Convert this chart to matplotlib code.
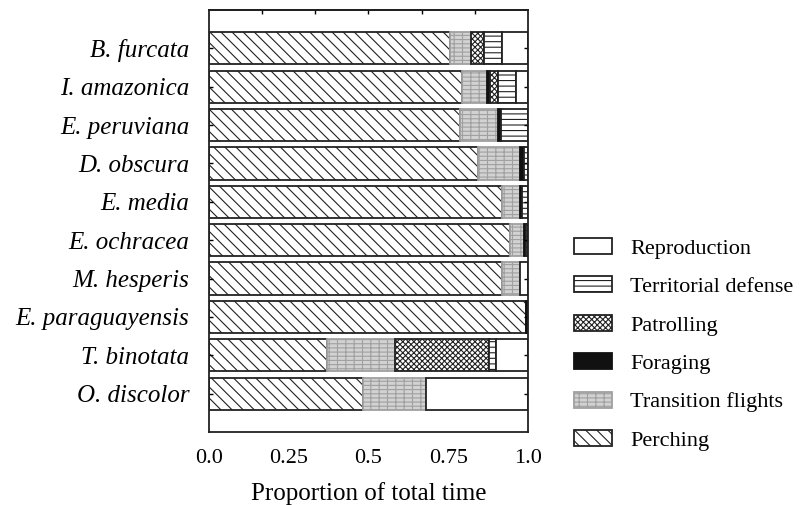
import matplotlib
matplotlib.use("Agg")
import matplotlib.pyplot as plt
import numpy as np
from matplotlib.patches import Patch

plt.rcParams['font.family'] = ['Liberation Serif', 'DejaVu Serif']
plt.rcParams['hatch.linewidth'] = 0.8

species = ["B. furcata", "I. amazonica", "E. peruviana", "D. obscura", "E. media",
           "E. ochracea", "M. hesperis", "E. paraguayensis", "T. binotata", "O. discolor"]

perching    = [0.756, 0.792, 0.787, 0.844, 0.917, 0.943, 0.917, 0.995, 0.370, 0.482]
transition  = [0.065, 0.079, 0.118, 0.132, 0.059, 0.045, 0.059, 0.000, 0.213, 0.197]
foraging    = [0.000, 0.010, 0.010, 0.012, 0.006, 0.006, 0.000, 0.005, 0.000, 0.000]
patrolling  = [0.042, 0.024, 0.000, 0.000, 0.000, 0.000, 0.000, 0.000, 0.295, 0.000]
territorial = [0.054, 0.057, 0.085, 0.012, 0.018, 0.006, 0.000, 0.000, 0.021, 0.000]
reproduction= [0.083, 0.038, 0.000, 0.000, 0.000, 0.000, 0.024, 0.000, 0.101, 0.321]

xticks = [0.0, 0.25, 0.5, 0.75, 1.0]
xticklabels = ["0.0", "0.25", "0.5", "0.75", "1.0"]

series = [
    ("Perching", perching, dict(facecolor='white', edgecolor='#222222', hatch='\\\\\\')),
    ("Transition flights", transition, dict(facecolor='#d2d2d2', edgecolor='#a0a0a0', hatch='--++')),
    ("Foraging", foraging, dict(facecolor='#111111', edgecolor='#111111', hatch=None)),
    ("Patrolling", patrolling, dict(facecolor='white', edgecolor='#222222', hatch='xxxxxx')),
    ("Territorial defense", territorial, dict(facecolor='white', edgecolor='#222222', hatch='---')),
    ("Reproduction", reproduction, dict(facecolor='white', edgecolor='#222222', hatch=None)),
]

fig = plt.figure(figsize=(8.0, 5.05), dpi=100)
ax = fig.add_axes([0.261, 0.1446, 0.399, 0.8356])

n = len(species)
y = np.arange(n)[::-1]
left = np.zeros(n)
for name, vals, style in series:
    vals = np.array(vals)
    lw = [1.3 if v > 0 else 0 for v in vals]
    ax.barh(y, vals, left=left, height=0.84, linewidth=lw, label=name, **style)
    left = left + vals

ax.set_xlim(0, 1.0)
ax.set_ylim(-1, 10)
ax.set_yticks(y)
ax.set_yticklabels(species, fontstyle='italic', fontsize=18)
ax.set_xticks(xticks)
ax.set_xticklabels(xticklabels, fontsize=16)
ax.tick_params(axis='x', which='major', length=0, pad=12)
ax.tick_params(axis='y', direction='in', length=3, pad=14, right=True, width=1)
ax.set_xlabel("Proportion of total time", fontsize=18, labelpad=10)

top = ax.secondary_xaxis('top')
top.set_xticks([i / 6 for i in range(1, 6)])
top.set_xticklabels([])
top.tick_params(direction='in', length=3, width=1)
top.spines['top'].set_linewidth(1.3)

for s in ax.spines.values():
    s.set_linewidth(1.3)
    s.set_color('#222222')

leg_handles = [Patch(**series[i][2], linewidth=1.3, label=series[i][0]) for i in range(len(series))][::-1]
fig.legend(handles=leg_handles, loc='center left', bbox_to_anchor=(0.718, 0.318),
           frameon=False, fontsize=16, handlelength=1.7, handleheight=0.72,
           labelspacing=0.8, handletextpad=0.8, borderpad=0, borderaxespad=0)

fig.savefig("out.png", dpi=100)
